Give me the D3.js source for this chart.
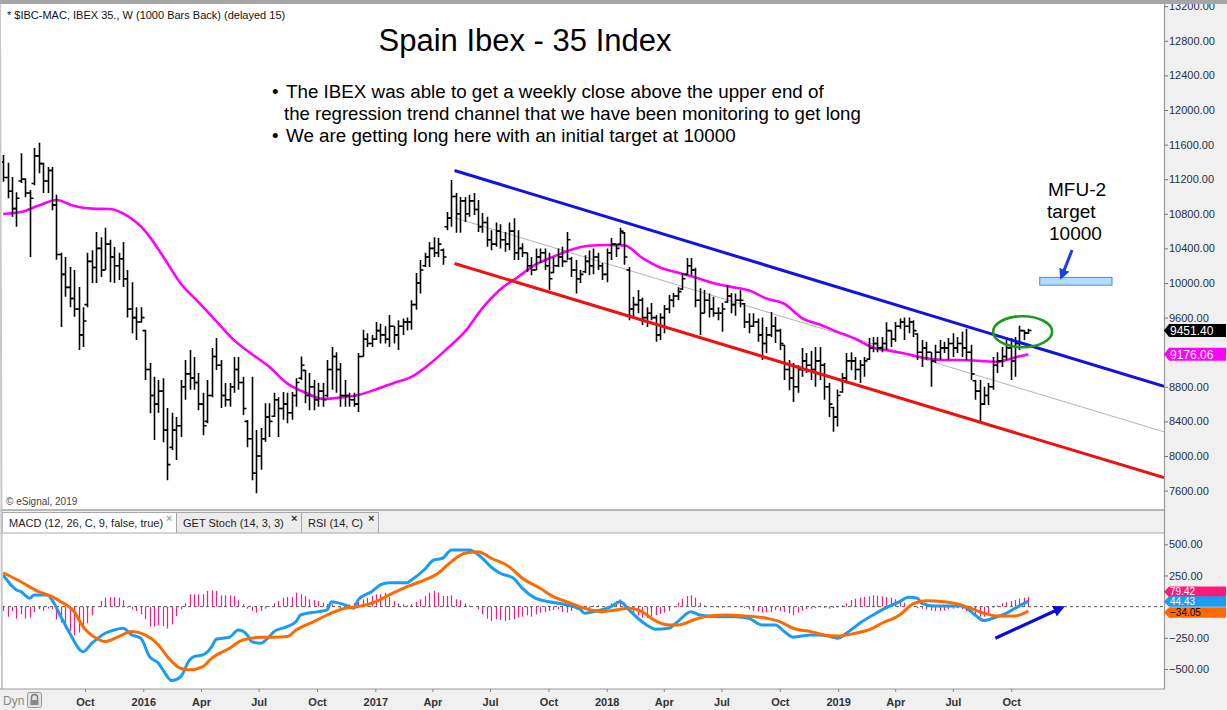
<!DOCTYPE html>
<html><head><meta charset="utf-8">
<script src="https://d3js.org/d3.v7.min.js"></script>
<style>
html,body{margin:0;padding:0;background:#fff;overflow:hidden;}
svg{display:block;font-family:"Liberation Sans",Arial,sans-serif;}
</style></head><body>
<svg id="c" width="1227" height="710"></svg>
<script>
// ---------------- DATA ----------------
const startWeek = "2015-05-25"; // first weekly bar (Monday)
const opens = [
11400,11220,11060,10860,11180,11200,11040,11150,11470,11380,
11180,11300,10900,10330,10100,9950,9820,9700,9400,9750,
10250,10180,10400,10150,10450,10300,10200,10280,10050,9700,
9600,9550,9450,9000,8700,8600,8750,8300,8100,8300,
8350,8800,8950,8900,8850,8600,8400,8700,9150,9050,
8700,8650,8800,9000,8850,8400,8200,7800,8000,8200,
8450,8460,8650,8550,8600,8500,8700,8900,8990,8700,
8800,8650,8750,8700,9000,9150,9000,8700,8700,8650,
8600,9150,9350,9300,9350,9450,9400,9350,9500,9400,
9500,9550,9550,9750,10000,10200,10300,10400,10350,10380,
10650,10750,11000,10800,10950,10800,10950,10850,10650,10700,
10500,10450,10600,10500,10450,10600,10350,10400,10350,10200,
10150,10300,10350,10200,10120,10200,10300,10250,10280,10150,
10050,10130,10250,10200,10300,10200,10100,10350,10450,10450,
10580,10150,9700,9750,9800,9600,9650,9600,9400,9600,
9700,9800,9850,9930,10100,10200,10150,9800,9650,9800,
9700,9650,9650,9780,9850,9750,9800,9760,9550,9500,
9550,9400,9300,9400,9500,9450,9280,9000,8900,8800,
9000,9100,9050,9000,9100,9050,8800,8560,8450,8740,
8900,9100,9100,9000,9050,9120,9250,9300,9250,9300,
9450,9350,9500,9550,9500,9550,9410,9200,9250,9200,
9100,9200,9250,9250,9300,9250,9300,9250,9200,8870,
8750,8600,8700,8800,9050,9100,9150,9250,9100,9300,
9450,9420];
const highs = [
11480,11390,11225,11050,11500,11210,11075,11560,11620,11390,
11340,11340,11020,10350,10300,10185,10150,9955,9720,10350,
10380,10590,10530,10640,10500,10415,10350,10475,10150,10010,
9720,9720,9460,9075,8915,8880,8900,8555,8500,8450,
8880,9110,9225,9145,8960,8730,8880,9250,9365,9110,
8845,8845,9145,9145,8915,8415,8915,8300,8325,8610,
8610,8730,8680,8740,8730,8740,8900,9150,8995,8960,
8880,8845,8845,9110,9260,9200,9075,8880,8730,8730,
9190,9460,9420,9400,9550,9530,9500,9630,9500,9570,
9590,9600,9800,10115,10265,10350,10475,10530,10520,10400,
10820,11190,11040,10995,10995,11020,11040,10960,10810,10765,
10610,10700,10680,10590,10700,10750,10610,10460,10350,10300,
10400,10400,10400,10350,10300,10400,10420,10590,10300,10265,
10150,10320,10375,10400,10350,10230,10400,10520,10450,10640,
10590,10185,9840,9920,9830,9720,9770,9630,9650,9745,
9860,9885,9950,10115,10290,10290,10175,9940,9920,9880,
9840,9720,9770,9975,9885,9880,9920,9770,9650,9650,
9590,9600,9490,9665,9610,9470,9285,9110,9075,9050,
9250,9190,9215,9260,9260,9075,8845,8570,8770,8960,
9190,9200,9145,9110,9145,9365,9375,9375,9375,9545,
9455,9550,9590,9600,9600,9570,9420,9340,9320,9200,
9285,9340,9320,9365,9420,9375,9435,9470,9285,8880,
8880,8800,8845,9145,9200,9260,9375,9365,9375,9506,
9455,9470];
const lows = [
11170,10980,10765,10650,11155,10990,10300,11130,11270,11040,
11040,10840,10270,9490,9840,9720,9610,9225,9260,9720,
10000,10000,10070,10150,10010,10000,10035,9955,9600,9420,
9340,9540,8880,8495,8185,8500,8160,7720,8070,7955,
8220,8650,8765,8765,8530,8240,8380,8680,8995,8555,
8570,8570,8730,8765,8475,8100,7720,7570,7840,8165,
8220,8450,8220,8420,8380,8420,8570,8880,8610,8530,
8530,8570,8570,8680,8765,8730,8570,8570,8570,8570,
8510,9150,9260,9260,9340,9300,9300,9260,9300,9225,
9400,9450,9460,9690,9880,10185,10185,10300,10300,10210,
10610,10650,10580,10580,10705,10765,10785,10590,10580,10420,
10380,10420,10400,10360,10380,10265,10265,10300,10130,10090,
10150,10230,10150,9920,10115,10185,10185,10265,10070,9880,
10000,10115,10090,10100,10150,10035,10010,10265,10300,10440,
10210,9570,9600,9650,9515,9490,9570,9320,9340,9420,
9650,9720,9800,9920,10090,10090,9720,9400,9650,9600,
9610,9570,9435,9770,9650,9620,9720,9480,9420,9490,
9320,9110,9190,9375,9305,9225,8880,8760,8625,8730,
8915,8960,8880,8800,8880,8650,8450,8280,8340,8730,
8840,8990,8880,8845,8915,9110,9200,9200,9200,9225,
9260,9320,9470,9340,9420,9375,9110,9030,9110,8800,
9075,9110,9190,9110,9145,9190,9145,9110,8880,8650,
8395,8590,8590,8765,8960,9030,9110,8880,8915,9225,
9340,9410];
const closes = [
11220,11060,10860,10980,11200,11040,10980,11470,11380,11180,
11300,10900,10330,10100,9950,9820,9700,9400,9560,10250,
10180,10400,10150,10450,10300,10200,10280,10050,9700,9600,
9550,9600,9000,8700,8600,8750,8300,7900,8300,8350,
8800,8950,8900,8850,8600,8350,8700,9150,9050,8700,
8650,8800,9000,8850,8550,8200,7800,8000,8200,8450,
8400,8650,8550,8600,8500,8700,8850,9050,8700,8800,
8650,8750,8650,9000,9150,9000,8700,8700,8650,8600,
9150,9350,9300,9350,9450,9400,9350,9500,9400,9500,
9550,9550,9750,10000,10150,10300,10400,10350,10450,10300,
10750,11000,10800,10950,10800,10950,10850,10650,10700,10500,
10450,10600,10500,10450,10600,10350,10400,10350,10200,10150,
10300,10350,10200,10050,10200,10300,10250,10500,10150,10050,
10100,10250,10200,10300,10200,10100,10350,10450,10400,10600,
10300,9700,9750,9800,9600,9650,9600,9400,9600,9700,
9800,9850,9900,10050,10200,10150,9800,9650,9800,9700,
9650,9650,9700,9850,9750,9800,9800,9550,9500,9550,
9400,9300,9400,9500,9450,9300,9000,8900,8800,9000,
9100,9050,9000,9100,9050,8800,8600,8450,8700,8900,
9100,9100,9000,9050,9100,9250,9300,9250,9300,9450,
9350,9500,9550,9500,9550,9450,9200,9250,9200,9100,
9200,9250,9250,9300,9250,9300,9250,9200,8950,8750,
8600,8700,8800,9050,9100,9150,9250,9100,9300,9450,
9420,9451.4];

// 40-week moving average (magenta), read at these bar numbers
const maWeeks = [0,4,8,12,16,20,24,28,32,36,40,44,48,52,56,60,64,68,72,76,80,84,88,92,96,100,104,108,112,116,120,124,128,132,136,140,144,148,152,156,160,164,168,172,176,180,184,188,192,196,200,204,208,212,216,220,224,228,231];
const maValues = [10798,10820,10895,10960,10890,10860,10855,10775,10600,10310,9995,9780,9560,9340,9180,9030,8840,8735,8660,8675,8705,8770,8845,8915,9060,9240,9435,9710,9925,10070,10215,10305,10385,10430,10440,10435,10290,10180,10120,10065,10000,9955,9915,9820,9760,9595,9520,9435,9355,9255,9215,9175,9130,9110,9110,9100,9090,9140,9176.06];

// MACD line (blue) and signal (orange), read at these bar numbers
const macdWeeks = [0,3,4,6,7,10,11,13,15,18,20,23,25,27,29,31,33,35,36,38,40,42,43,45,47,48,51,53,55,56,58,60,61,64,66,67,71,73,74,77,79,80,83,85,87,91,92,95,97,99,101,105,108,110,112,115,117,120,123,127,130,131,133,137,139,141,143,145,147,150,152,155,157,161,165,168,171,174,176,178,182,184,187,188,190,192,193,196,198,202,204,206,207,210,213,216,219,221,223,226,228,231];
const macdValues = [254,134,120,67,94,94,54,-80,-213,-361,-293,-213,-187,-173,-227,-253,-401,-454,-507,-593,-561,-427,-401,-387,-321,-261,-245,-187,-227,-280,-293,-240,-200,-160,-120,-67,-40,-26,40,14,-13,54,120,174,192,192,214,300,374,388,454,454,388,316,268,228,147,67,40,14,-21,-53,-40,0,40,-26,-93,-147,-181,-173,-120,-40,-67,-80,-80,-93,-147,-147,-200,-245,-227,-227,-245,-253,-213,-160,-133,-67,-26,40,75,67,27,6,6,6,-67,-112,-93,-53,-13,44.43];
const signalWeeks = [0,4,8,11,13,16,18,21,23,26,29,32,35,37,40,42,45,47,51,54,58,61,64,66,70,73,77,80,84,87,91,94,98,101,104,107,110,114,117,121,124,128,131,135,138,141,144,146,150,152,156,159,163,167,172,175,178,182,185,188,192,195,198,202,205,208,212,215,218,221,224,228,230,231];
const signalValues = [272,200,120,80,40,-40,-160,-253,-280,-240,-200,-227,-307,-401,-494,-507,-481,-413,-333,-267,-245,-245,-240,-187,-120,-67,-13,0,40,94,160,200,268,361,428,441,388,321,228,147,80,27,-13,-40,-26,-13,-40,-93,-147,-147,-101,-75,-67,-75,-93,-120,-173,-200,-227,-235,-213,-187,-133,-67,22,48,40,22,-13,-53,-75,-75,-53,-34.05];
// MACD histogram, one per weekly bar
const histValues = [
-35,-80,-35,-96,-61,-96,-88,-43,-21,-35,
-16,-21,-101,-128,-176,-195,-230,-208,-182,-134,
-69,0,45,72,77,77,72,51,-8,-21,
-35,-61,-101,-160,-160,-150,-155,-176,-142,-75,
-21,27,99,99,99,99,126,131,126,91,
91,91,85,51,19,-16,-35,-48,-35,-16,
5,27,45,72,77,77,112,99,85,59,
53,45,32,19,19,0,-16,-16,19,27,
37,59,72,85,99,99,112,77,45,27,
19,11,19,37,59,85,112,126,112,85,
85,91,59,51,27,11,0,-21,-61,-96,
-115,-101,-107,-115,-107,-101,-88,-80,-69,-80,
-61,-48,-43,-35,-27,-21,-43,-48,-35,-21,
-16,-11,-11,11,11,0,-8,27,45,59,
32,-35,-53,-69,-88,-91,-80,-69,-59,-48,
-35,0,32,64,85,91,72,32,11,0,
-5,-8,-8,-5,0,5,-3,-11,-21,-35,
-40,-48,-45,-43,-27,-35,-43,-53,-69,-48,
-32,-21,-16,-11,-5,-11,-16,-11,-5,11,
27,53,64,72,77,83,91,88,83,77,
72,59,45,32,5,-5,-13,-16,-21,-32,
-35,-35,-32,-21,-16,-11,-21,-35,-48,-64,
-80,-80,-53,-8,11,27,37,45,53,64,
72,79.42];

// regression trend channel (start date, end date) and its values
const channelDates = ["2017-05-06","2020-05-29"];
const upperChannel = [11300,8805];
const midChannel = [10755,8280];
const lowerChannel = [10225,7750];

// 9200.00 is hidden behind the value tags in the reference
const priceTicks = [7600,8000,8400,8800,9600,10000,10400,10800,11200,11600,12000,12400,12800,13200];
const macdTicks = [-500,-250,250,500];
const timeTickDates = ["2015-10-01","2016-01-01","2016-04-01","2016-07-01","2016-10-01","2017-01-01","2017-04-01","2017-07-01","2017-10-01","2018-01-01","2018-04-01","2018-07-01","2018-10-01","2019-01-01","2019-04-01","2019-07-01","2019-10-01"];
const timeTickLabels = ["Oct","2016","Apr","Jul","Oct","2017","Apr","Jul","Oct","2018","Apr","Jul","Oct","2019","Apr","Jul","Oct"];

const titleText = "Spain Ibex - 35 Index";
const noteLines = ["The IBEX was able to get a weekly close above the upper end of","the regression trend channel that we have been monitoring to get long","We are getting long here with an initial target at 10000"];
const targetLines = ["MFU-2","target","10000"];
const targetZone = {from:"2019-11-15", to:"2020-03-08", low:9975, high:10065};
const breakoutCircle = {date:"2019-10-19", value:9437};
const targetArrow = {from:["2020-01-05",10381], to:["2019-12-20",10084]};
const macdArrow = {from:["2019-09-06",-253], to:["2019-12-18",-13]};

// ---------------- CHART ----------------
const W = 1227, H = 710;
const PR = 1164;           // right edge of plot panes
const svg = d3.select("#c");
const parse = d3.utcParse("%Y-%m-%d");
const first = parse(startWeek);
const weekDate = i => d3.utcDay.offset(first, 7 * i);

const x = d3.scaleUtc().domain([parse("2015-05-20"), parse("2020-05-29")]).range([0, PR]);
const y = d3.scaleLinear().domain([7600, 13200]).range([490.6, 6.2]);
const ym = d3.scaleLinear().domain([-500, 500]).range([669, 544.3]);

svg.append("rect").attr("width", W).attr("height", H).attr("fill", "#fff");
const defs = svg.append("defs");
defs.append("clipPath").attr("id", "pc").append("rect").attr("x", 2).attr("y", 4).attr("width", PR - 2).attr("height", 506);
defs.append("clipPath").attr("id", "mc").append("rect").attr("x", 2).attr("y", 533).attr("width", PR - 2).attr("height", 156);
function marker(id, color, w) {
  defs.append("marker").attr("id", id).attr("viewBox", "0 0 10 10").attr("refX", 6).attr("refY", 5)
    .attr("markerWidth", w).attr("markerHeight", w).attr("orient", "auto").attr("markerUnits", "strokeWidth")
    .append("path").attr("d", "M0,0L10,5L0,10Z").attr("fill", color);
}
marker("ah1", "#1a3fe8", 3.6);
marker("ah2", "#0c0cd8", 3.6);

// ----- price pane -----
const pp = svg.append("g").attr("clip-path", "url(#pc)");
const cd = channelDates.map(parse);
pp.append("line").attr("x1", x(cd[0])).attr("x2", x(cd[1])).attr("y1", y(midChannel[0])).attr("y2", y(midChannel[1]))
  .attr("stroke", "#b4b4b4").attr("stroke-width", 1);

const maData = maWeeks.map((w, i) => ({d: weekDate(w), v: maValues[i]}));
pp.append("path").datum(maData)
  .attr("d", d3.line().x(d => x(d.d)).y(d => y(d.v)).curve(d3.curveMonotoneX))
  .attr("fill", "none").attr("stroke", "#ff00ff").attr("stroke-width", 2.6);

const bars = closes.map((c, i) => ({d: weekDate(i), o: opens[i], h: highs[i], l: lows[i], c}));
pp.append("g").selectAll("path").data(bars).join("path")
  .attr("d", b => {
    const xx = Math.round(x(b.d)) + 0.5;
    return `M${xx},${y(b.h)}V${y(b.l)}M${xx - 3},${y(b.o)}H${xx}M${xx},${y(b.c)}H${xx + 3}`;
  })
  .attr("fill", "none").attr("stroke", "#000").attr("stroke-width", 1.6);

pp.append("line").attr("x1", x(cd[0])).attr("x2", x(cd[1])).attr("y1", y(upperChannel[0])).attr("y2", y(upperChannel[1]))
  .attr("stroke", "#1212e2").attr("stroke-width", 3);
pp.append("line").attr("x1", x(cd[0])).attr("x2", x(cd[1])).attr("y1", y(lowerChannel[0])).attr("y2", y(lowerChannel[1]))
  .attr("stroke", "#f01010").attr("stroke-width", 3);

// target zone, circle, arrow
pp.append("rect").attr("x", x(parse(targetZone.from))).attr("y", y(targetZone.high))
  .attr("width", x(parse(targetZone.to)) - x(parse(targetZone.from))).attr("height", y(targetZone.low) - y(targetZone.high))
  .attr("fill", "#b5dcf7").attr("stroke", "#3b93dd").attr("stroke-width", 1);
pp.append("ellipse").attr("cx", x(parse(breakoutCircle.date))).attr("cy", y(breakoutCircle.value)).attr("rx", 29.5).attr("ry", 15.5)
  .attr("fill", "none").attr("stroke", "#1b9a1b").attr("stroke-width", 2.6);
pp.append("line").attr("x1", x(parse(targetArrow.from[0]))).attr("y1", y(targetArrow.from[1]))
  .attr("x2", x(parse(targetArrow.to[0]))).attr("y2", y(targetArrow.to[1]))
  .attr("stroke", "#1a3fe8").attr("stroke-width", 3).attr("marker-end", "url(#ah1)");

// texts
svg.append("text").attr("x", 7).attr("y", 19).text("* $IBC-MAC, IBEX 35., W (1000 Bars Back) (delayed 15)")
  .style("font-size", "11px").attr("fill", "#111");
svg.append("text").attr("x", 525).attr("y", 51).attr("text-anchor", "middle").text(titleText)
  .style("font-size", "31px").attr("fill", "#000");
const noteY = [98, 120, 142];
svg.append("text").attr("x", 272).attr("y", noteY[0]).text("•").style("font-size", "18.8px");
svg.append("text").attr("x", 286).attr("y", noteY[0]).text(noteLines[0]).style("font-size", "18.8px");
svg.append("text").attr("x", 284).attr("y", noteY[1]).text(noteLines[1]).style("font-size", "18.6px");
svg.append("text").attr("x", 272).attr("y", noteY[2]).text("•").style("font-size", "18.8px");
svg.append("text").attr("x", 286).attr("y", noteY[2]).text(noteLines[2]).style("font-size", "18.8px");
const tY = [196, 218, 240], tX = [1048, 1047, 1049];
targetLines.forEach((t, i) => svg.append("text").attr("x", tX[i]).attr("y", tY[i]).text(t).style("font-size", "19px").attr("fill", "#000"));
svg.append("text").attr("x", 6).attr("y", 505).text("© eSignal, 2019").style("font-size", "10px").attr("fill", "#444");

// ----- tab row -----
svg.append("rect").attr("x", 0).attr("y", 510).attr("width", PR).attr("height", 23).attr("fill", "#f0f0f0");
svg.append("line").attr("x1", 0).attr("x2", PR).attr("y1", 510).attr("y2", 510).attr("stroke", "#a0a0a0").attr("stroke-width", 1.5);
const tabs = [
  {x0: 2, x1: 176, label: "MACD (12, 26, C, 9, false, true)", fill: "#fff", xc: "#aaa"},
  {x0: 176, x1: 301, label: "GET Stoch (14, 3, 3)", fill: "#ececec", xc: "#333"},
  {x0: 301, x1: 378, label: "RSI (14, C)", fill: "#ececec", xc: "#333"}
];
tabs.forEach(t => {
  svg.append("rect").attr("x", t.x0 + 0.5).attr("y", 512.5).attr("width", t.x1 - t.x0).attr("height", 21)
    .attr("fill", t.fill).attr("stroke", "#a8a8a8").attr("stroke-width", 1);
  svg.append("text").attr("x", t.x0 + 7).attr("y", 527).text(t.label).style("font-size", "11px").attr("fill", "#222");
  svg.append("text").attr("x", t.x1 - 10).attr("y", 522).text("×").style("font-size", "11px").style("font-weight", "bold").attr("fill", t.xc);
});

// ----- MACD pane -----
svg.append("rect").attr("x", 2).attr("y", 533).attr("width", PR - 2).attr("height", 156).attr("fill", "#fff");
svg.append("line").attr("x1", 0).attr("x2", PR).attr("y1", 533).attr("y2", 533).attr("stroke", "#a8a8a8");
const mp = svg.append("g").attr("clip-path", "url(#mc)");
mp.append("g").selectAll("line").data(histValues).join("line")
  .attr("x1", (v, i) => Math.round(x(weekDate(i))) + 0.5).attr("x2", (v, i) => Math.round(x(weekDate(i))) + 0.5)
  .attr("y1", ym(0)).attr("y2", v => ym(v)).attr("stroke", "#ff1a78").attr("stroke-width", 1.2);
mp.append("line").attr("x1", 2).attr("x2", PR).attr("y1", ym(0)).attr("y2", ym(0))
  .attr("stroke", "#555").attr("stroke-width", 1).attr("stroke-dasharray", "3,3");
const macdData = macdWeeks.map((w, i) => ({d: weekDate(w), v: macdValues[i]}));
const sigData = signalWeeks.map((w, i) => ({d: weekDate(w), v: signalValues[i]}));
const ml = d3.line().x(d => x(d.d)).y(d => ym(d.v)).curve(d3.curveMonotoneX);
mp.append("path").datum(macdData).attr("d", ml).attr("fill", "none").attr("stroke", "#1a9cf2").attr("stroke-width", 3);
mp.append("path").datum(sigData).attr("d", ml).attr("fill", "none").attr("stroke", "#ff6a00").attr("stroke-width", 3);
mp.append("line").attr("x1", x(parse(macdArrow.from[0]))).attr("y1", ym(macdArrow.from[1]))
  .attr("x2", x(parse(macdArrow.to[0]))).attr("y2", ym(macdArrow.to[1]))
  .attr("stroke", "#0c0cd8").attr("stroke-width", 3.2).attr("marker-end", "url(#ah2)");

// ----- right axis column -----
svg.append("rect").attr("x", PR).attr("y", 0).attr("width", W - PR).attr("height", H).attr("fill", "#f0f0f0");
svg.append("line").attr("x1", PR + 0.5).attr("x2", PR + 0.5).attr("y1", 0).attr("y2", 689).attr("stroke", "#9a9a9a").attr("stroke-width", 1.2);
svg.append("line").attr("x1", 0).attr("x2", 2).attr("y1", 0).attr("y2", 689).attr("stroke", "#c8c8c8").attr("stroke-width", 2);

const ay = svg.append("g").attr("transform", `translate(${PR},0)`)
  .call(d3.axisRight(y).tickValues(priceTicks).tickFormat(d3.format(".2f")).tickSize(4).tickPadding(1));
const am = svg.append("g").attr("transform", `translate(${PR},0)`)
  .call(d3.axisRight(ym).tickValues(macdTicks).tickFormat(d3.format(".2f")).tickSize(4).tickPadding(1));
[ay, am].forEach(a => {
  a.select(".domain").remove();
  a.selectAll("line").attr("stroke", "#777");
  a.selectAll("text").style("font-size", "11px").style("font-family", "Liberation Sans, Arial, sans-serif").attr("fill", "#26304a");
});

function tag(yc, txt, bg, fg, h, fs) {
  const hh = h / 2;
  svg.append("path").attr("d", `M${PR},${yc}L${PR + 5},${yc - hh}H1226V${yc + hh}H${PR + 5}Z`).attr("fill", bg);
  svg.append("text").attr("x", PR + 6).attr("y", yc).attr("dy", "0.36em").text(txt)
    .style("font-size", fs + "px").attr("fill", fg);
}
const fmt = d3.format(".2f");
const lastC = closes[closes.length - 1], lastMA = maValues[maValues.length - 1];
tag(y(lastC), fmt(lastC), "#000", "#fff", 13, 12);
tag(y(lastMA), fmt(lastMA), "#ff00ff", "#fff", 13, 12);
// MACD value tags, stacked so they do not hide each other
const lastH = histValues[histValues.length - 1], lastM = macdValues[macdValues.length - 1], lastS = signalValues[signalValues.length - 1];
tag(ym(lastH) - 5, fmt(lastH), "#ff1a78", "#fff", 10.5, 10);
tag(ym(lastM) + 0.5, fmt(lastM), "#1a9cf2", "#fff", 10.5, 10);
tag(ym(lastS) + 1.5, fmt(lastS), "#ff6a00", "#000", 10.5, 10);

// ----- bottom time axis -----
svg.append("rect").attr("x", 0).attr("y", 689).attr("width", W).attr("height", 21).attr("fill", "#f0f0f0");
svg.append("line").attr("x1", 0).attr("x2", PR + 1).attr("y1", 689).attr("y2", 689).attr("stroke", "#9a9a9a").attr("stroke-width", 1.2);
const ax = svg.append("g").attr("transform", "translate(0,689)")
  .call(d3.axisBottom(x).tickValues(timeTickDates.map(parse)).tickFormat((d, i) => timeTickLabels[i]).tickSize(3));
ax.select(".domain").remove();
ax.selectAll("line").attr("stroke", "#888");
ax.selectAll("text").attr("y", 17).attr("dy", 0).style("font-size", "11px").style("font-weight", "bold")
  .style("font-family", "Liberation Sans, Arial, sans-serif").attr("fill", "#333");
svg.append("text").attr("x", 3).attr("y", 705).text("Dyn").style("font-size", "12px").attr("fill", "#888");
svg.append("rect").attr("x", 27.5).attr("y", 692.5).attr("width", 14).attr("height", 15).attr("rx", 2)
  .attr("fill", "#e2e2e2").attr("stroke", "#999");
svg.append("path").attr("d", "M31.5,700V697.5a3,3 0 0 1 6,0V700").attr("fill", "none").attr("stroke", "#777").attr("stroke-width", 1.3);
svg.append("rect").attr("x", 30.5).attr("y", 700).attr("width", 8).attr("height", 5).attr("fill", "#888");

// top frame bar
svg.append("rect").attr("x", 0).attr("y", 0).attr("width", W).attr("height", 4).attr("fill", "#a6a6a6");
</script>
</body></html>
